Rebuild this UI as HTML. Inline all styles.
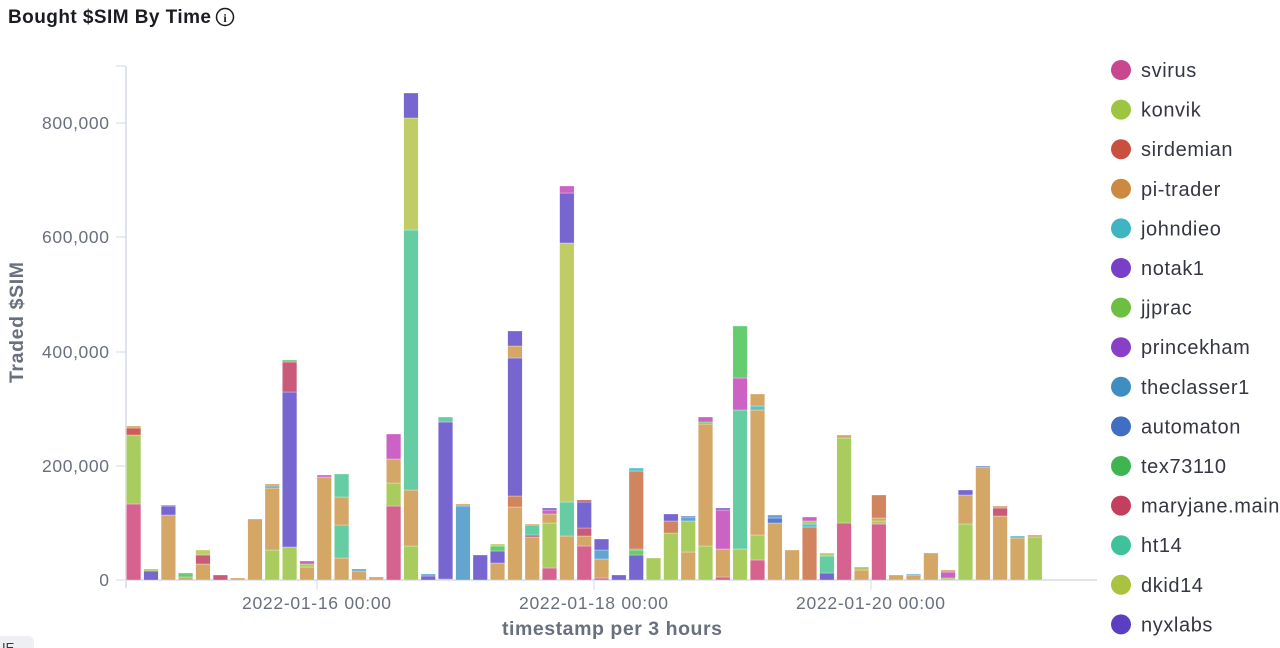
<!DOCTYPE html>
<html><head><meta charset="utf-8">
<style>
html,body{margin:0;padding:0;background:#fff;width:1280px;height:648px;overflow:hidden}
svg{display:block;font-family:"Liberation Sans",sans-serif}
</style></head><body>
<svg id="c" width="1280" height="648" viewBox="0 0 1280 648">
<text x="8" y="23" font-size="19" font-weight="bold" fill="#1a1c21" textLength="203">Bought $SIM By Time</text>
<circle cx="225" cy="17" r="8.5" fill="none" stroke="#1a1c21" stroke-width="1.5"/>
<text x="225" y="22" font-size="12" font-weight="bold" text-anchor="middle" fill="#1a1c21" font-family="Liberation Serif,serif">i</text>
<line x1="126" y1="66" x2="126" y2="588" stroke="#d3dae6" stroke-width="1.5"/>
<line x1="116" y1="66" x2="126" y2="66" stroke="#d3dae6"/>
<line x1="126" y1="580" x2="1097" y2="580" stroke="#d3dae6" stroke-width="1.5"/>
<g id="bars"></g>
<g font-size="17.5" fill="#69707d" text-anchor="end">
<text x="109" y="129" textLength="67">800,000</text><line x1="116" y1="123" x2="126" y2="123" stroke="#d3dae6"/>
<text x="109" y="358" textLength="67">400,000</text><line x1="116" y1="352" x2="126" y2="352" stroke="#d3dae6"/>
<text x="109" y="243" textLength="67">600,000</text><line x1="116" y1="237" x2="126" y2="237" stroke="#d3dae6"/>
<text x="109" y="472" textLength="67">200,000</text><line x1="116" y1="466" x2="126" y2="466" stroke="#d3dae6"/>
<text x="109" y="586">0</text><line x1="116" y1="580" x2="126" y2="580" stroke="#d3dae6"/>
</g>
<g font-size="17.5" fill="#69707d">
<line x1="317" y1="580" x2="317" y2="590" stroke="#d3dae6"/><text x="242" y="609" textLength="149">2022-01-16 00:00</text>
<line x1="594" y1="580" x2="594" y2="590" stroke="#d3dae6"/><text x="519" y="609" textLength="149">2022-01-18 00:00</text>
<line x1="871" y1="580" x2="871" y2="590" stroke="#d3dae6"/><text x="796" y="609" textLength="149">2022-01-20 00:00</text>
</g>
<text x="502" y="635" font-size="19.5" font-weight="bold" fill="#69707d" textLength="220">timestamp per 3 hours</text>
<text transform="translate(23,383) rotate(-90)" font-size="19.5" font-weight="bold" fill="#69707d" textLength="121">Traded $SIM</text>
<g id="leg" font-size="20" fill="#343741"></g>
<rect x="-8" y="636" width="42" height="20" rx="6" fill="#eeeff2"/>
<text x="2" y="652" font-size="13" fill="#343741">IE</text>
</svg>
<script>
var C={P:"#d6628f",G:"#a9cc5e",S:"#cc5e55",O:"#d4a766",J:"#5cc0c9",U:"#7766d0",E:"#66cc70",M:"#cc62c4",B:"#62a6d0",A:"#5a7ccc",T:"#66cca4",D:"#c0cc66",R:"#d0855f",K:"#c95a7a"};
var data=[
[["P",504],["G",435],["S",428],["O",426]],
[["U",571],["G",569]],
[["O",515],["U",506],["B",505]],
[["O",577],["E",573]],
[["O",564],["K",555],["D",550]],
[["K",575]],
[["O",578]],
[["O",519]],
[["G",550],["O",488],["B",486],["O",484]],
[["G",547],["U",392],["K",362],["E",360]],
[["O",567],["G",564],["M",561]],
[["O",477],["M",475]],
[["O",558],["T",525],["O",497],["T",474]],
[["O",571],["B",569]],
[["O",577]],
[["P",506],["G",483],["O",459],["M",434]],
[["G",546],["O",490],["T",230],["D",118],["U",93]],
[["U",576],["B",574]],
[["G",579],["U",422],["T",417]],
[["B",506],["O",504]],
[["U",555]],
[["O",563],["U",551],["E",546],["D",544]],
[["O",507],["R",496],["U",358],["O",346],["U",331]],
[["O",537],["K",535],["T",525],["O",524]],
[["P",568],["G",523],["O",514],["M",510],["U",508]],
[["O",536],["T",502],["D",243],["U",193],["M",186]],
[["P",546],["O",536],["K",528],["U",502],["S",500]],
[["P",578],["O",559],["B",550],["U",539]],
[["U",575]],
[["U",555],["E",550],["M",549],["R",471],["J",468]],
[["G",558]],
[["G",533],["R",521],["U",514]],
[["O",552],["G",521],["B",517],["A",516]],
[["G",546],["O",424],["E",422],["M",417]],
[["P",577],["O",549],["M",510],["U",508]],
[["G",549],["T",410],["M",378],["E",326]],
[["P",560],["G",535],["O",410],["J",406],["O",394]],
[["O",523],["A",518],["B",515]],
[["O",550]],
[["R",527],["J",524],["G",521],["M",517]],
[["U",573],["T",556],["D",553]],
[["P",523],["G",438],["O",435]],
[["O",570],["G",567]],
[["P",524],["G",521],["O",518],["R",495]],
[["O",575]],
[["O",575],["B",574]],
[["O",553]],
[["G",578],["M",572],["O",570]],
[["G",524],["O",495],["U",490]],
[["O",467],["A",466]],
[["O",516],["K",508],["O",506]],
[["O",538],["J",536]],
[["G",537],["O",535]]
];
var s="";
data.forEach(function(b,i){var x=126.4+i*17.33,prev=580;b.forEach(function(seg){var y=seg[1];s+='<rect x="'+x.toFixed(1)+'" y="'+y+'" width="14.5" height="'+Math.max(prev-y,0.8)+'" fill="'+C[seg[0]]+'" stroke="#fff" stroke-width="0.3"/>';prev=y;});});
document.getElementById("bars").innerHTML=s;
var L=[["svirus","#c9478e"],["konvik","#9dc541"],["sirdemian","#c94f3f"],["pi-trader","#cc8a40"],["johndieo","#3fb5c2"],["notak1","#7a3fc9"],["jjprac","#6cbf40"],["princekham","#8a3fc9"],["theclasser1","#3f8ec2"],["automaton","#3f6ec2"],["tex73110","#3fb552"],["maryjane.main","#c23f5e"],["ht14","#3fc29a"],["dkid14","#a9c23f"],["nyxlabs","#5a3fc2"]];
var l="";L.forEach(function(e,i){var y=70+i*39.6;l+='<circle cx="1121" cy="'+y+'" r="10" fill="'+e[1]+'"/><text x="1141" y="'+(y+7)+'" style="letter-spacing:0.6px">'+e[0]+'</text>';});
document.getElementById("leg").innerHTML=l;
</script>
</body></html>
